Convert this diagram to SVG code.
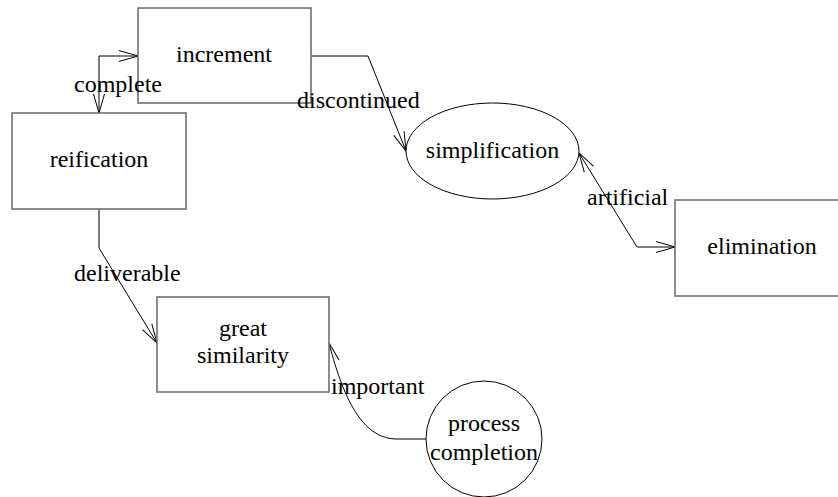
<svg xmlns="http://www.w3.org/2000/svg" width="838" height="497" viewBox="0 0 838 497">
<style>
.box{fill:#fff;stroke:#707070;stroke-width:1.6}
.shape{fill:#fff;stroke:#000;stroke-width:1}
.edge{fill:none;stroke:#000;stroke-width:1}
text{font-family:"Liberation Serif","Times New Roman",serif;font-size:24px;fill:#000}
.c{text-anchor:middle}
</style>
<defs>
<marker id="arr" markerUnits="userSpaceOnUse" markerWidth="22" markerHeight="14" viewBox="-1 -7 22 14" refX="19" refY="0" orient="auto-start-reverse">
<path d="M0,-5.5 L19,0 L0,5.5" fill="none" stroke="#000" stroke-width="1"/>
</marker>
</defs>
<g id="connectors">
<path class="edge" d="M99,113 L99,56 L138,56" marker-start="url(#arr)" marker-end="url(#arr)"/>
<path class="edge" d="M311,56 L368,56 L406,151" marker-end="url(#arr)"/>
<path class="edge" d="M579,153 L637,247 L675,247" marker-start="url(#arr)" marker-end="url(#arr)"/>
<path class="edge" d="M99,209 L99,248 L157,343" marker-end="url(#arr)"/>
<path class="edge" d="M426,439 L397,439 C365,439 345,405 329,343" marker-end="url(#arr)"/>
</g>
<g id="increment">
<rect class="box" x="138" y="8" width="173" height="95"/>
<text class="c" x="224" y="62">increment</text>
</g>
<g id="reification">
<rect class="box" x="12" y="113" width="174" height="96"/>
<text class="c" x="99" y="167">reification</text>
</g>
<g id="simplification">
<ellipse class="shape" cx="492.5" cy="151" rx="86.5" ry="48"/>
<text class="c" x="492.5" y="158">simplification</text>
</g>
<g id="elimination">
<rect class="box" x="675" y="200" width="174" height="96"/>
<text class="c" x="762" y="254">elimination</text>
</g>
<g id="great_similarity">
<rect class="box" x="157" y="297" width="172" height="95"/>
<text class="c" x="243" y="336">great</text>
<text class="c" x="243" y="363">similarity</text>
</g>
<g id="process_completion">
<circle class="shape" cx="484" cy="439" r="58"/>
<text class="c" x="484" y="431">process</text>
<text class="c" x="484" y="460">completion</text>
</g>
<g id="labels">
<text x="74" y="92">complete</text>
<text x="297" y="108">discontinued</text>
<text x="587" y="205">artificial</text>
<text x="74" y="281">deliverable</text>
<text x="331" y="394">important</text>
</g>
</svg>
